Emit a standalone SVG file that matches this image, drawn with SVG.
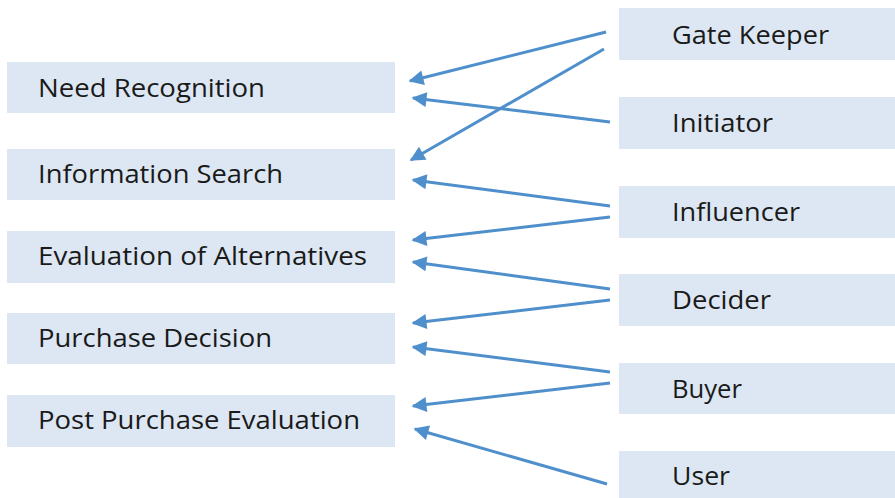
<svg xmlns="http://www.w3.org/2000/svg" width="895" height="498" viewBox="0 0 895 498">
<style>
.box{fill:#dce7f3}
.t{font-family:"Open Sans","Liberation Sans",sans-serif;font-size:26px;fill:#1a1a1a}
.c{stroke:#4f8fcc;stroke-width:3;fill:none;marker-end:url(#ah)}
</style>
<defs>
<marker id="ah" viewBox="0 0 10 10" refX="9" refY="5" markerWidth="6" markerHeight="5" orient="auto" markerUnits="strokeWidth">
<path d="M0,0 L10,5 L0,10 Z" fill="#4f8fcc"/>
</marker>
</defs>
<rect width="895" height="498" fill="#ffffff"/>
<g id="need-recognition"><rect class="box" x="7" y="62" width="388" height="51"/><text class="t" x="38" y="97" textLength="227" lengthAdjust="spacingAndGlyphs">Need Recognition</text></g>
<g id="information-search"><rect class="box" x="7" y="149" width="388" height="51"/><text class="t" x="38" y="183" textLength="245" lengthAdjust="spacingAndGlyphs">Information Search</text></g>
<g id="evaluation"><rect class="box" x="7" y="231" width="388" height="52"/><text class="t" x="38" y="265" textLength="329" lengthAdjust="spacingAndGlyphs">Evaluation of Alternatives</text></g>
<g id="purchase-decision"><rect class="box" x="7" y="313" width="388" height="51"/><text class="t" x="38" y="347" textLength="234" lengthAdjust="spacingAndGlyphs">Purchase Decision</text></g>
<g id="post-purchase"><rect class="box" x="7" y="395" width="388" height="52"/><text class="t" x="38" y="429" textLength="322" lengthAdjust="spacingAndGlyphs">Post Purchase Evaluation</text></g>
<g id="gate-keeper"><rect class="box" x="619" y="8" width="276" height="52"/><text class="t" x="672" y="44" textLength="157" lengthAdjust="spacingAndGlyphs">Gate Keeper</text></g>
<g id="initiator"><rect class="box" x="619" y="97" width="276" height="52"/><text class="t" x="672" y="132" textLength="101" lengthAdjust="spacingAndGlyphs">Initiator</text></g>
<g id="influencer"><rect class="box" x="619" y="186" width="276" height="52"/><text class="t" x="672" y="221" textLength="128" lengthAdjust="spacingAndGlyphs">Influencer</text></g>
<g id="decider"><rect class="box" x="619" y="274" width="276" height="52"/><text class="t" x="672" y="309" textLength="99" lengthAdjust="spacingAndGlyphs">Decider</text></g>
<g id="buyer"><rect class="box" x="619" y="363" width="276" height="51"/><text class="t" x="672" y="398" textLength="70" lengthAdjust="spacingAndGlyphs">Buyer</text></g>
<g id="user"><rect class="box" x="619" y="451" width="276" height="47"/><text class="t" x="672" y="485" textLength="58" lengthAdjust="spacingAndGlyphs">User</text></g>
<g id="connectors">
<line class="c" x1="606" y1="32" x2="410" y2="81"/>
<line class="c" x1="604" y1="49" x2="411" y2="160"/>
<line class="c" x1="610" y1="122" x2="413" y2="98"/>
<line class="c" x1="610" y1="206" x2="413" y2="180"/>
<line class="c" x1="610" y1="217" x2="413" y2="240"/>
<line class="c" x1="610" y1="289" x2="413" y2="262"/>
<line class="c" x1="610" y1="300" x2="413" y2="323"/>
<line class="c" x1="610" y1="372" x2="413" y2="347"/>
<line class="c" x1="610" y1="383" x2="413" y2="406"/>
<line class="c" x1="607" y1="484" x2="415" y2="429"/>
</g>
</svg>
